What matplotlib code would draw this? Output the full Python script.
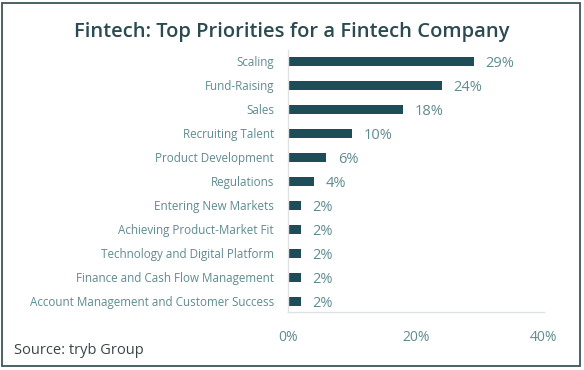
import numpy as np
import matplotlib
matplotlib.use('Agg')
import matplotlib.pyplot as plt
from matplotlib.patches import Rectangle
from matplotlib.ticker import FuncFormatter

categories = ['Scaling', 'Fund-Raising', 'Sales', 'Recruiting Talent',
              'Product Development', 'Regulations', 'Entering New Markets',
              'Achieving Product-Market Fit', 'Technology and Digital Platform',
              'Finance and Cash Flow Management',
              'Account Management and Customer Success']
values = [29, 24, 18, 10, 6, 4, 2, 2, 2, 2, 2]
x_ticks = [0, 20, 40]

plt.rcParams['font.family'] = ['Open Sans', 'DejaVu Sans']

bar_color = '#1e4d58'
label_color = '#5f8b90'
title_color = '#2c4a51'

fig = plt.figure(figsize=(5.84, 3.70), dpi=100)
ax = fig.add_axes([288 / 584, 1 - 312 / 370, 256 / 584, 262 / 370])

y = np.arange(len(categories))
ax.barh(y, values, height=0.36, color=bar_color)
ax.set_xlim(0, 40)
ax.set_ylim(10.45, -0.47)

for yi, v in zip(y, values):
    ax.annotate('{}%'.format(v), (v, yi), xytext=(8.5, -1.5), textcoords='offset points',
                va='center', ha='left', fontsize=10.5, color=label_color)

ax.set_yticks(y)
ax.set_yticklabels(categories, fontsize=8.4, color=label_color)
ax.set_xticks(x_ticks)
ax.xaxis.set_major_formatter(FuncFormatter(lambda v, p: '{:.0f}%'.format(v)))
ax.tick_params(axis='x', length=0, pad=13, labelsize=10, labelcolor=label_color)
ax.tick_params(axis='y', length=0, pad=10)

for side in ['top', 'right']:
    ax.spines[side].set_visible(False)
for side in ['left', 'bottom']:
    ax.spines[side].set_color('#dde2e4')
    ax.spines[side].set_linewidth(1.0)

fig.text(292 / 584, 1 - 32 / 370, 'Fintech: Top Priorities for a Fintech Company',
         ha='center', va='center', fontsize=14.5, fontweight='semibold', color=title_color)
fig.text(14 / 584, 1 - 350 / 370, 'Source: tryb Group', ha='left', va='center',
         fontsize=10.5, color='#3a4547')

fig.patches.append(Rectangle((2 / 584, 4 / 370), 578 / 584, 363 / 370,
                             transform=fig.transFigure, fill=False,
                             edgecolor='#3b5559', linewidth=1.3))

plt.savefig('out.png', dpi=100)
